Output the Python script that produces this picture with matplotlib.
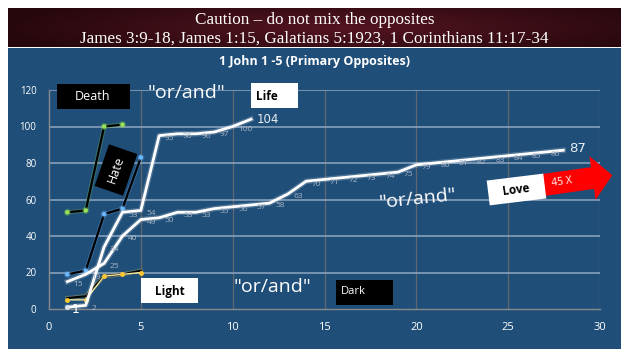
import matplotlib
matplotlib.use("Agg")
import matplotlib.pyplot as plt
import matplotlib.patheffects as pe
from matplotlib.patches import Rectangle, Polygon
import numpy as np

# series values, x = position along the passage
x_death = [1, 2, 3, 4]
death = [53, 54, 100, 101]
x_hate = [1, 2, 3, 4, 5]
hate = [19, 21, 52, 55, 83]
x_dark = [1, 2, 3, 4, 5]
dark = [6, 7, 18, 19, 21]
light = [5, 5, 18, 19, 20]
x_life = list(range(1, 12))
life = [1, 2, 34, 53, 54, 95, 96, 96, 97, 100, 104]
x_love = list(range(1, 29))
love = [15, 19, 25, 40, 49, 50, 53, 53, 55, 56, 57, 58, 63, 70, 71, 72, 73, 74,
        75, 79, 80, 81, 82, 83, 84, 85, 86, 87]
xticks = [0, 5, 10, 15, 20, 25, 30]
yticks = [0, 20, 40, 60, 80, 100, 120]

W, H = 629, 349
BLUE = "#1f4e79"

fig = plt.figure(figsize=(W / 100, H / 100), dpi=100, facecolor="white")

def fx(px):
    return px / W

def fy(py):
    return 1 - py / H

# blue panel and maroon banner
fig.patches.append(Rectangle((fx(8), 0), fx(613), fy(48), transform=fig.transFigure,
                             facecolor=BLUE, edgecolor="none", zorder=-5))
bax = fig.add_axes([fx(8), fy(47), fx(613), 39 / H])
gx = np.linspace(-1, 1, 300)
gy = np.linspace(-1, 1, 40)
GX, GY = np.meshgrid(gx, gy)
shade = np.clip(1 - np.sqrt((GX - 0.1) ** 2 * 0.8 + GY ** 2 * 0.3), 0, 1)
dark_c = np.array([0.15, 0.03, 0.05])
lite_c = np.array([0.33, 0.08, 0.13])
img = dark_c + (lite_c - dark_c) * shade[..., None]
bax.imshow(img, aspect="auto", extent=[0, 1, 0, 1])
bax.set_axis_off()

fig.text(0.5, fy(20), "Caution \u2013 do not mix the opposites", ha="center", va="center",
         color="white", fontsize=12.3, family="Liberation Serif")
fig.text(0.5, fy(39), "James 3:9-18, James 1:15, Galatians 5:1923, 1 Corinthians 11:17-34",
         ha="center", va="center", color="white", fontsize=12.3, family="Liberation Serif")
fig.text(0.5, fy(62), "1 John 1 -5 (Primary Opposites)", ha="center", va="center",
         color="white", fontsize=9, fontweight="bold", family="Open Sans")

ax = fig.add_axes([fx(49), fy(309), fx(551), (309 - 90) / H])
ax.set_facecolor("none")
ax.set_xlim(0, 30)
ax.set_ylim(0, 120)
ax.set_xticks(xticks)
ax.set_yticks(yticks)
ax.tick_params(length=0, colors="white")
ax.tick_params(axis="x", pad=9, labelsize=8)
ax.tick_params(axis="y", pad=9, labelsize=7)
for lab in ax.get_xticklabels() + ax.get_yticklabels():
    lab.set_family("Open Sans")
for s in ["top", "right"]:
    ax.spines[s].set_visible(False)
for s in ["left", "bottom"]:
    ax.spines[s].set_color("#8a8a8a")
    ax.spines[s].set_linewidth(1)
for v in xticks[1:]:
    ax.axvline(v, color="#62676d", lw=0.9, zorder=1)
for v in yticks[1:]:
    ax.axhline(v, color="#8fa6c2", lw=1.1, zorder=1)

def glow(color, width, alpha):
    return [pe.Stroke(linewidth=width, foreground=color, alpha=alpha), pe.Normal()]

ax.plot(x_death, death, color="black", lw=1.6, zorder=4,
        marker="o", ms=2.2, mfc="#9be35a", mec="#9be35a",
        path_effects=glow("#7ccf4a", 3, 0.3))
ax.plot(x_hate, hate, color="black", lw=1.6, zorder=4,
        marker="o", ms=2.2, mfc="#6ab8ff", mec="#6ab8ff",
        path_effects=glow("#6aa8e8", 3, 0.3))
ax.plot(x_dark, dark, color="black", lw=1.5, zorder=4,
        path_effects=glow("#f0d050", 3, 0.3))
ax.plot(x_dark, light, color="#f3e7a0", lw=1, zorder=5,
        marker="o", ms=2.5, mfc="#ffc830", mec="#ffc830")
ax.plot(x_life, life, color="white", lw=2, zorder=6,
        path_effects=glow("white", 4, 0.2))
ax.plot(x_love, love, color="white", lw=2, zorder=6,
        path_effects=glow("white", 4, 0.2))
ax.plot(x_life[:1], life[:1], "o", ms=2.5, color="#dde6f0", zorder=7)

# point labels
small = dict(color="#aab6c6", fontsize=6, va="center", ha="left", zorder=8,
             family="Open Sans", annotation_clip=False)
for xv, yv in zip(x_life[1:-1], life[1:-1]):
    ax.annotate(str(yv), (xv, yv), xytext=(4, -2), textcoords="offset points", **small)
for xv, yv in zip(x_love[:-1], love[:-1]):
    ax.annotate(str(yv), (xv, yv), xytext=(4, -2), textcoords="offset points", **small)
ax.annotate(str(life[0]), (x_life[0], life[0]), xytext=(3, -2), textcoords="offset points",
            color="white", fontsize=9, va="center", ha="left", zorder=8, annotation_clip=False)
ax.annotate(str(life[-1]), (x_life[-1], life[-1]), xytext=(4, 0), textcoords="offset points",
            color="#e8edf3", fontsize=8.5, va="center", ha="left", zorder=8)
ax.annotate(str(love[-1]), (x_love[-1], love[-1]), xytext=(4, 1), textcoords="offset points",
            color="#e8edf3", fontsize=9.5, va="center", ha="left", zorder=8)

# labels and boxes
def box(px, py, w, h, fc, rot=0):
    cx, cy = px + w / 2, py + h / 2
    t = np.radians(rot)
    pts = []
    for dx, dy in [(-w / 2, -h / 2), (w / 2, -h / 2), (w / 2, h / 2), (-w / 2, h / 2)]:
        rx = dx * np.cos(t) + dy * np.sin(t)
        ry = -dx * np.sin(t) + dy * np.cos(t)
        pts.append((fx(cx + rx), fy(cy + ry)))
    fig.patches.append(Polygon(pts, closed=True, transform=fig.transFigure,
                               facecolor=fc, edgecolor="none", zorder=10))

box(57, 84, 73, 25, "black")
fig.text(fx(93), fy(97), "Death", color="white", fontsize=9, ha="center", va="center",
         family="Open Sans", zorder=11)
box(251, 83, 47, 25, "white")
fig.text(fx(256), fy(96), "Life", color="black", fontsize=8.5, fontweight="bold",
         ha="left", va="center", family="Open Sans", zorder=11)
box(94, 155, 44, 30, "black", rot=71)
fig.text(fx(116), fy(170), "Hate", color="white", fontsize=9, ha="center", va="center",
         rotation=71, rotation_mode="anchor", family="Open Sans", zorder=11)
box(141, 278, 57, 25, "white")
fig.text(fx(170), fy(291), "Light", color="black", fontsize=8.5, fontweight="bold",
         ha="center", va="center", family="Open Sans", zorder=11)
box(336, 280, 57, 25, "black")
fig.text(fx(341), fy(292), "Dark", color="white", fontsize=8, ha="left", va="center",
         family="Open Sans", zorder=11)
box(488, 177, 57, 25, "white", rot=7)
fig.text(fx(516), fy(190), "Love", color="black", fontsize=8.5, fontweight="bold",
         ha="center", va="center", rotation=7, family="Open Sans", zorder=11)

for cx, cy, rot in [(186, 93, 0), (272, 287, 0), (418, 199, 6)]:
    fig.text(fx(cx), fy(cy), '"or/and"', color="white", fontsize=14, ha="center",
             va="center", rotation=rot, family="Open Sans", zorder=11)

# red arrow
t = np.radians(8)
ox, oy = 543, 185
shape = [(0, -11), (50, -11), (50, -22), (70, 0), (50, 22), (50, 11), (0, 11)]
arr = []
for dx, dy in shape:
    rx = dx * np.cos(t) + dy * np.sin(t)
    ry = -dx * np.sin(t) + dy * np.cos(t)
    arr.append((fx(ox + rx), fy(oy + ry)))
fig.patches.append(Polygon(arr, closed=True, transform=fig.transFigure,
                           facecolor="#ff0000", edgecolor="none", zorder=9))
fig.text(fx(562), fy(182), "45 X", color="white", fontsize=7.5, ha="center", va="center",
         rotation=8, family="Open Sans", zorder=11)

fig.savefig("out.png", dpi=100, facecolor="white")
